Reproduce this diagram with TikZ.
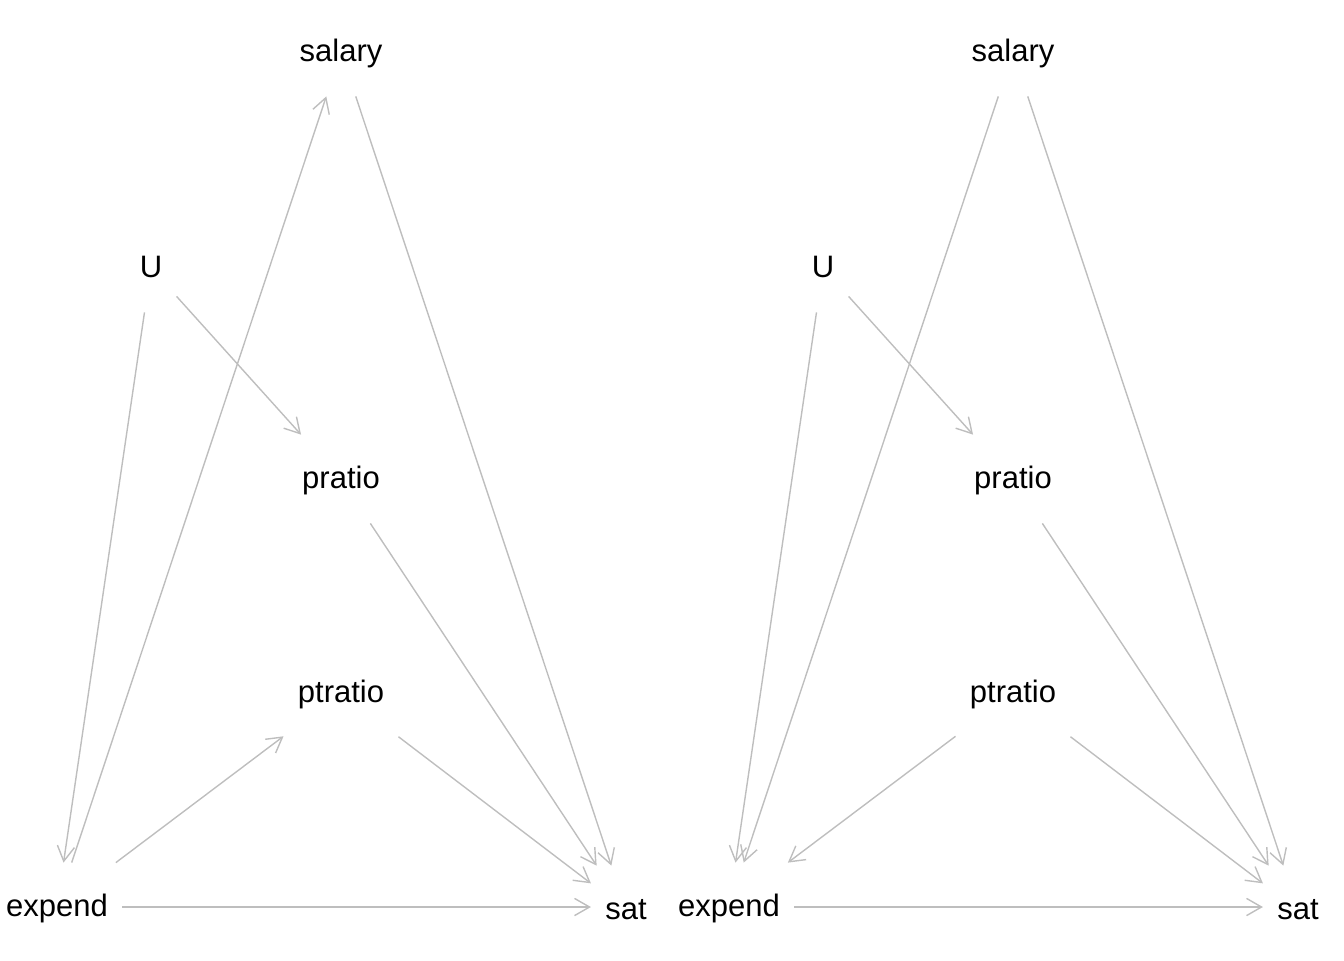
\documentclass[tikz,border=0pt]{standalone}
\usepackage{fontspec}
\setmainfont{Liberation Sans}
\usetikzlibrary{arrows.meta}
\definecolor{edgegray}{RGB}{190,190,190}
\begin{document}
\begin{tikzpicture}[x=0.5pt,y=-0.5pt,
  var/.style={rectangle,inner xsep=7pt,inner ysep=0pt,minimum height=44pt,
    text height=13pt,text depth=3.3pt,font=\fontsize{15.5}{18}\selectfont},
  edge/.style={draw=edgegray,line width=0.7pt,
    -{Straight Barb[length=7.5pt,width=8.6pt]}}]
\useasboundingbox (0,0) rectangle (1344,960);
% left panel
\node[var] (salaryL) at (341,52) {salary};
\node[var] (UL) at (151,268) {U};
\node[var] (pratioL) at (341,479) {pratio};
\node[var] (ptratioL) at (341,693) {ptratio};
\node[var] (expendL) at (57,907) {expend};
\node[var] (satL) at (626,910) {sat};
\draw[edge] (expendL) -- (salaryL);
\draw[edge] (salaryL) -- (satL);
\draw[edge] (UL) -- (expendL);
\draw[edge] (UL) -- (pratioL);
\draw[edge] (pratioL) -- (satL);
\draw[edge] (ptratioL) -- (satL);
\draw[edge] (expendL) -- (ptratioL);
\draw[edge] (expendL.east) -- (expendL.east -| satL.west);
% right panel
\node[var] (salaryR) at (1013,52) {salary};
\node[var] (UR) at (823,268) {U};
\node[var] (pratioR) at (1013,479) {pratio};
\node[var] (ptratioR) at (1013,693) {ptratio};
\node[var] (expendR) at (729,907) {expend};
\node[var] (satR) at (1298,910) {sat};
\draw[edge] (salaryR) -- (expendR);
\draw[edge] (salaryR) -- (satR);
\draw[edge] (UR) -- (expendR);
\draw[edge] (UR) -- (pratioR);
\draw[edge] (pratioR) -- (satR);
\draw[edge] (ptratioR) -- (satR);
\draw[edge] (ptratioR) -- (expendR);
\draw[edge] (expendR.east) -- (expendR.east -| satR.west);
\end{tikzpicture}
\end{document}
